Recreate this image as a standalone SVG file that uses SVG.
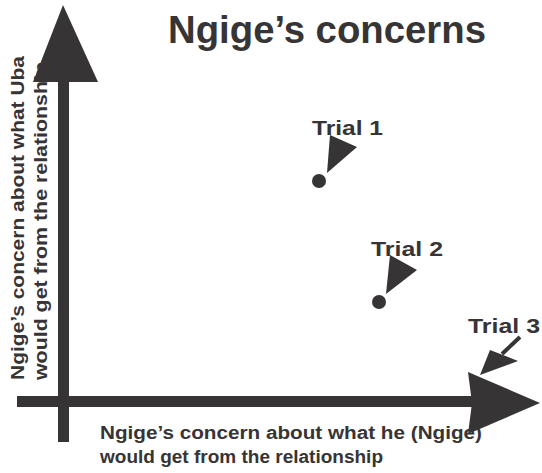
<svg xmlns="http://www.w3.org/2000/svg" width="542" height="473" viewBox="0 0 542 473">
<style>
.t{font-family:"Liberation Sans",Arial,sans-serif;font-weight:bold;fill:#373435}
.d{fill:#373435}
</style>
<rect width="542" height="473" fill="#fff"/>
<g id="title"><text class="t" x="168" y="43" font-size="39" textLength="318" lengthAdjust="spacingAndGlyphs">Ngige’s concerns</text></g>
<g id="ylabel">
<text class="t" font-size="18" transform="translate(24,380) rotate(-90)" textLength="324" lengthAdjust="spacingAndGlyphs">Ngige’s concern about what Uba</text>
<text class="t" font-size="18" transform="translate(47,380) rotate(-90)" textLength="318" lengthAdjust="spacingAndGlyphs">would get from the relationship</text>
</g>
<g id="xlabel">
<text class="t" x="100" y="439" font-size="18" textLength="382" lengthAdjust="spacingAndGlyphs">Ngige’s concern about what he (Ngige)</text>
<text class="t" x="100" y="463" font-size="18" textLength="283" lengthAdjust="spacingAndGlyphs">would get from the relationship</text>
</g>
<g id="connectors">
<rect class="d" x="58" y="78" width="11" height="364"/>
<polygon class="d" points="63,5 98,82 33,82"/>
<rect class="d" x="17" y="396" width="455" height="11"/>
<polygon class="d" points="468,372 540,403 468,434 472,403"/>
<polygon class="d" points="330,135 357,147 327,173"/>
<polygon class="d" points="390,255 417,270 386,294"/>
<line x1="520" y1="337" x2="502" y2="354" stroke="#373435" stroke-width="4"/>
<polygon class="d" points="490,350 518,361 480,375"/>
</g>
<g id="trial1"><circle class="d" cx="319" cy="181" r="7"/><text class="t" x="312" y="135" font-size="20" textLength="71" lengthAdjust="spacingAndGlyphs">Trial 1</text></g>
<g id="trial2"><circle class="d" cx="379" cy="302" r="7"/><text class="t" x="371" y="256" font-size="20" textLength="72" lengthAdjust="spacingAndGlyphs">Trial 2</text></g>
<g id="trial3"><text class="t" x="468" y="333" font-size="20" textLength="72" lengthAdjust="spacingAndGlyphs">Trial 3</text></g>
</svg>
